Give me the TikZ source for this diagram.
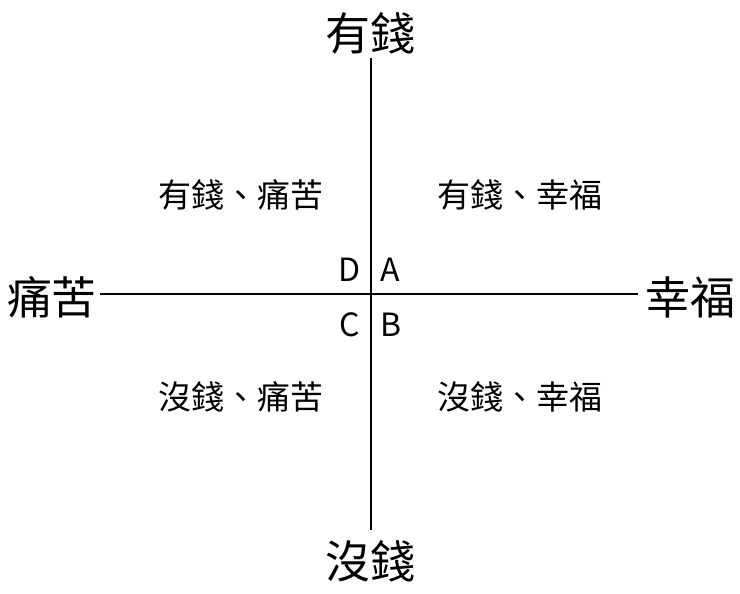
\documentclass[tikz,border=0pt]{standalone}
\usepackage{fontspec}
\setmainfont{Noto Sans CJK TC}
\begin{document}
\begin{tikzpicture}[x=1pt,y=-1pt,
  big/.style={font=\fontsize{45}{47}\selectfont, inner sep=0pt},
  quad/.style={font=\fontsize{33}{35}\selectfont, inner sep=0pt},
  letter/.style={font=\fontsize{32}{34}\selectfont, inner sep=0pt},
  axis/.style={line width=2.8pt}]
\useasboundingbox (0,0) rectangle (740,594);
\coordinate (top) at (371,58);
\coordinate (bot) at (371,530);
\coordinate (lft) at (100,294);
\coordinate (rgt) at (638,294);
\draw[axis] (top) -- (bot);
\draw[axis] (lft) -- (rgt);
\node[big] (n1) at (370,33) {有錢};
\node[big] (n2) at (370,561) {沒錢};
\node[big] (n3) at (52,297) {痛苦};
\node[big] (n4) at (690,297) {幸福};
\node[quad] (q1) at (241,195) {有錢、痛苦};
\node[quad] (q2) at (520,195) {有錢、幸福};
\node[quad] (q3) at (241,397) {沒錢、痛苦};
\node[quad] (q4) at (520,397) {沒錢、幸福};
\node[letter] (ld) at (350,270) {D};
\node[letter] (la) at (390,270) {A};
\node[letter] (lc) at (350,325) {C};
\node[letter] (lb) at (391,325) {B};
\end{tikzpicture}
\end{document}
